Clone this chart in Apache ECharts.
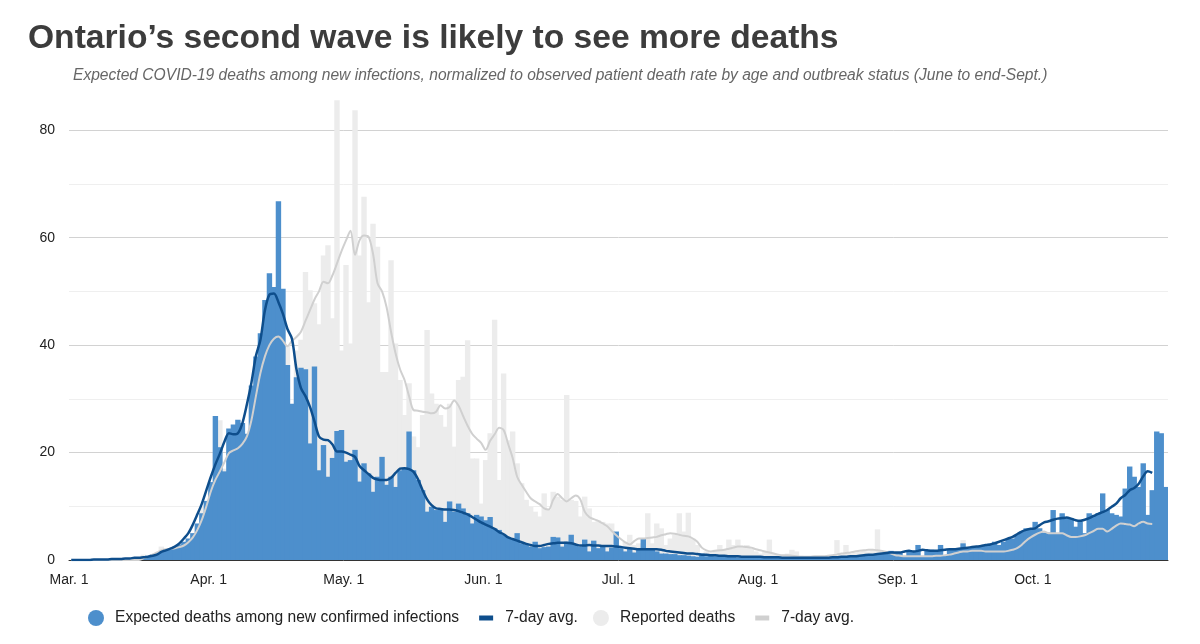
<!DOCTYPE html>
<html><head><meta charset="utf-8">
<script src="https://cdn.jsdelivr.net/npm/echarts@6/dist/echarts.min.js"></script>
<style>html,body{margin:0;padding:0;background:#fff}#chart{width:1200px;height:644px}</style>
</head><body><div id="chart"></div>
<script>
// Daily values, Mar. 1 – Oct. 30, 2020 (one entry per day)
const tickLabels = ['Mar. 1','Apr. 1','May. 1','Jun. 1','Jul. 1','Aug. 1','Sep. 1','Oct. 1'];

const expected = [
  // Mar
  0,0,0,0,0.05,0.1,0.1,0.1,0.15,0.2, 0.2,0.25,0.3,0.35,0.4,0.5,0.6,0.8,1.0,1.2, 1.5,1.8,2.1,2.5,2.9,3.4,4.0,5.0,6.8,8.7,11.0,
  // Apr
  14.5,26.8,21,16.5,24.5,25.2,26.1,25.5,23.5,32.5, 37.9,42.2,48.4,53.4,50.8,66.8,50.5,36.3,29.1,34, 35.8,35.5,21.7,36,16.7,21.4,15.5,19,24,24.2,
  // May
  18.3,18.6,20.5,14.6,18,16.1,12.7,15.5,19.2,14, 15.5,13.6,16.7,17,23.9,16.7,14.9,13,9,9.9, 9.3,9.6,7.1,10.9,9,10.5,9.6,8.7,6.8,8.4,8.1,
  // Jun
  7.4,8,5.9,5.6,4.7,4.3,4,5,3.1,2.8, 2.5,3.4,2.2,2.4,2.5,4.3,4.2,2.5,3.4,4.7, 2.8,2.5,3.8,1.6,3.6,2.2,2.6,1.6,2.3,5.3,
  // Jul
  2.2,1.6,2.2,1.4,2.2,4,2,2,1.6,1.2, 1.2,1.1,1.1,0.9,0.9,0.8,0.7,0.6,1.2,0.7, 0.8,0.7,0.7,0.6,0.6,0.7,0.5,0.6,0.5,0.5,0.6,
  // Aug
  0.4,0.5,0.4,0.5,0.4,0.3,0.4,0.4, 0.3,0.4,0.3,0.4,0.4,0.5,0.4,0.5,0.5,0.6, 0.6,0.7,0.7,0.8,0.8,0.9,1.0,1.0,1.1,1.2, 1.2,1.7,1.3,
  // Sep
  1.4,0.7,1.6,1.7,2.8,0.7,1.8,1.9,1.8,2.8, 0.8,2.0,2.0,2.1,3.1,2.2,2.4,2.5,2.6,2.8, 3.0,3.4,2.8,3.4,4.0,4.0,4.7,5.3,5.9,5.9,
  // Oct
  7.1,5.9,5.1,5.1,9.3,5.0,8.7,7.8,7.8,6.2, 7.1,5.0,8.7,8.4,8.7,12.4,9.3,8.7,8.4,8.1, 13.3,17.4,15.5,13.6,18,8.4,13,23.9,23.6,13.6
];

const reported = [
  // Mar
  0,0,0,0,0,0,0,0,0,0, 0,0,0,0,0,0,1,0,1,1, 2.5,1.5,2,2.5,3,2.5,4,5,6,10,11,
  // Apr
  13,20,26,17,22,21,19,24,22,30, 35,40,45,46,44,48,44,40,29,39, 41,53.6,50.2,47.8,43.9,56.7,58.6,45,85.6,39,
  // May
  54.9,40.3,83.7,56.7,67.6,48,62.6,58.3,35,35, 55.8,40.3,33.5,27,32.9,23,21,27,42.8,31, 29.1,27,24.8,29.1,21.1,33.5,34.1,40.9,18.9,18.9,10.5,
  // Jun
  18.6,23.6,44.7,14.9,34.7,22.3,23.9,18,14.3,11.2, 9.9,9,8.1,12.4,9.3,12.7,11.8,11.2,30.7,11.2, 11,8.1,11.8,9.6,7.1,7.4,7.1,6.8,6.8,5,
  // Jul
  1.6,3.4,4.7,2.8,3.1,2.5,8.7,3.1,6.8,5.9, 2.8,4,4.7,8.7,5.3,8.8,4,2.8,1.2,1.6, 1.4,1.9,2.8,1.9,3.8,2.8,3.8,2.5,2.8,2.2,1.6,
  // Aug
  1.2,1.6,3.8,1.2,0.9,0.9,1.2,1.9, 1.6,0.8,0.6,0.5,0.7,0.6,0.8,0.5,0.9,3.7, 1.0,2.8,1.2,1.4,1.5,1.7,1.6,1.8,5.7,1.5, 1.2,1.0,0.8,
  // Sep
  0.6,0.7,0.6,0.8,0.7,0.6,0.8,0.7,0.9,1.0, 0.8,1.1,1.2,1.5,3.7,1.4,1.6,1.8,1.5,1.7, 1.5,2,1.2,2.2,1.8,2.5,3,3.5,4.5,5,
  // Oct
  5.5,6,5,4.5,6,4.5,5.5,4,4.5,4, 5,4,5.5,6,6.5,5.5,5,6,7,7.5, 6.5,7,6,7.5,7,6.5,7,6,5,5
];

const expectedAvg = [
  // Mar
  0,0,0,0,0,0.1,0.1,0.1,0.1,0.2, 0.2,0.2,0.3,0.3,0.4,0.4,0.5,0.6,0.8,1.0, 1.5,1.8,2.1,2.5,3.1,4.0,5.0,6.6,8.5,10.5,13.0,
  // Apr
  15.5,17.8,19.8,22.0,23.6,23.4,23.6,25.5,29.0,33.0, 38.0,41.0,46.5,49.4,49.6,48.0,45.8,43.0,41.2,35.5, 32.0,30.5,28.5,25.8,23.0,22.4,22.3,21.5,20.2,20.2,
  // May
  20.0,19.6,19.2,17.5,16.7,16.0,15.3,15.0,14.9,14.9, 15.3,16.2,17.0,17.1,16.9,16.4,15.0,13.0,11.3,10.2, 9.6,9.5,9.4,9.4,9.3,9.1,8.8,8.5,8.0,7.5,7.0,
  // Jun
  6.6,6.2,5.8,5.2,4.8,4.2,3.9,3.6,3.3,3.0, 2.8,2.6,2.6,2.8,3.0,3.1,3.2,3.2,3.2,3.1, 2.9,2.7,2.7,2.8,2.7,2.7,2.6,2.6,2.6,2.5,
  // Jul
  2.4,2.3,2.2,2.1,2.0,2.0,2.0,2.0,2.0,1.9, 1.7,1.6,1.5,1.4,1.3,1.2,1.2,1.1,1.0,1.0, 0.9,0.9,0.8,0.8,0.7,0.7,0.7,0.6,0.6,0.6,0.6,
  // Aug
  0.6,0.5,0.5,0.5,0.5,0.4,0.4,0.4, 0.4,0.4,0.4,0.4,0.4,0.4,0.4,0.4,0.5,0.5, 0.6,0.6,0.7,0.7,0.8,0.9,1.0,1.0,1.1,1.2, 1.3,1.4,1.4,
  // Sep
  1.4,1.6,1.7,1.6,1.7,1.9,1.8,1.7,1.7,1.8, 1.9,2.0,2.0,2.1,2.2,2.3,2.4,2.5,2.6,2.8, 2.9,3.1,3.4,3.7,4.0,4.3,4.8,5.3,5.6,5.8,
  // Oct (to Oct. 27)
  5.9,6.5,7.0,7.2,7.5,7.7,7.8,7.9,7.7,7.4, 7.3,7.5,7.8,8.2,8.6,8.9,9.3,9.9,10.5,11.5, 12.1,13.0,13.4,14.2,15.6,16.5,16.2
];

const reportedAvg = [
  // Mar
  0,0,0,0,0,0,0,0,0,0, 0,0,0,0,0,0,0.3,0.6,1.0,1.4, 1.8,2.0,2.1,2.2,2.4,2.7,3.3,4.2,5.6,7.5,10.0,
  // Apr
  12.8,14.9,16.5,18.2,19.9,20.4,20.8,21.6,23.0,26.0, 30.5,34.8,37.9,40.0,41.2,41.6,40.8,39.8,40.8,41.5, 42.5,44.5,46.5,48.5,50.0,51.8,51.5,53.0,55.2,57.5,
  // May
  59.5,61.3,56.8,59.5,60.4,60.2,57.0,51.5,50.0,47.1, 42.5,38.5,35.5,33.5,30.5,27.9,27.8,27.6,27.5,27.3, 27.6,28.8,28.2,28.5,29.7,28.7,26.8,25.0,23.5,22.6,21.8,
  // Jun
  20.5,22.2,23.4,24.6,24.2,21.6,19.0,15.5,14.0,12.7, 11.5,10.9,10.4,9.6,9.4,11.2,12.3,11.5,10.9,11.5, 12.0,11.3,9.0,8.0,7.6,7.3,6.8,6.3,5.4,4.6,
  // Jul
  3.9,3.3,2.9,3.5,4.0,4.0,4.1,4.2,4.3,4.6, 4.8,5.0,4.9,4.7,4.5,4.4,4.0,3.4,2.3,1.8, 1.6,1.7,1.8,1.9,2.1,2.3,2.5,2.5,2.4,2.3,2.0,
  // Aug
  1.8,1.6,1.4,1.2,1.0,0.9,0.9,0.8, 0.7,0.6,0.6,0.6,0.7,0.7,0.7,0.8,0.9,1.0, 1.2,1.3,1.4,1.6,1.7,1.8,1.9,1.9,1.8,1.7, 1.5,1.2,0.9,
  // Sep
  0.8,0.7,0.7,0.7,0.7,0.7,0.7,0.7,0.8,0.8, 0.9,1.0,1.2,1.4,1.6,1.6,1.7,1.7,1.7,1.6, 1.6,1.6,1.6,1.6,1.7,1.9,2.2,2.8,3.6,4.2,
  // Oct (to Oct. 27)
  4.7,5.1,5.3,5.0,5.0,5.0,5.0,4.6,4.3,4.3, 4.4,4.6,5.0,5.4,5.8,5.8,5.3,5.8,6.4,6.8, 6.7,6.6,6.3,6.8,7.1,6.8,6.7
];

// Date categories (one per day from Mar. 1, 2020)
const categories = [];
const startMs = Date.UTC(2020, 2, 1);
for (let i = 0; i < expected.length; i++) {
  categories.push(new Date(startMs + i * 86400000).toISOString().slice(0, 10));
}
const isMonthStart = (i, v) => String(v).slice(8) === '01';
const monthLabel = v => String(v).slice(8) === '01' ? tickLabels[parseInt(v.slice(5, 7), 10) - 3] : '';

const FONT = '"Liberation Sans", Arial, Helvetica, sans-serif';
const rectIcon = 'path://M0,0M24,16M5,5.5h14v5h-14z';

const chart = echarts.init(document.getElementById('chart'), null, {renderer: 'canvas'});
chart.setOption({
  animation: false,
  backgroundColor: '#fff',
  textStyle: {fontFamily: FONT},
  title: [
    {text: 'Ontario\u2019s second wave is likely to see more deaths', left: 23, top: 17,
     textStyle: {fontFamily: FONT, fontSize: 33.6, fontWeight: 'bold', color: '#3c3c3c'}},
    {text: 'Expected COVID-19 deaths among new infections, normalized to observed patient death rate by age and outbreak status (June to end-Sept.)',
     left: 68, top: 63, textStyle: {fontFamily: FONT, fontSize: 15.6, fontStyle: 'italic', fontWeight: 'normal', color: '#666'}}
  ],
  grid: {left: 69, right: 32, top: 98, bottom: 84, containLabel: false},
  legend: {
    left: 83, top: 605, itemWidth: 24, itemHeight: 16, itemGap: 15,
    itemStyle: {borderWidth: 0},
    textStyle: {fontFamily: FONT, fontSize: 15.6, color: '#222', padding: [0, 0, 0, 2]},
    formatter: n => n.indexOf('avg') === 0 ? '7-day avg.' : n,
    data: [
      {name: 'Expected deaths among new confirmed infections', icon: 'circle'},
      {name: 'avgExpected', icon: rectIcon},
      {name: 'Reported deaths', icon: 'circle'},
      {name: 'avgReported', icon: rectIcon}
    ]
  },
  xAxis: {
    type: 'category', data: categories, boundaryGap: true,
    axisLine: {lineStyle: {color: '#333', width: 1}},
    axisTick: {interval: isMonthStart, length: 7, lineStyle: {color: '#333'}},
    axisLabel: {interval: isMonthStart, formatter: monthLabel, fontFamily: FONT, fontSize: 14, color: '#222', margin: 13, padding: [0, 4.5, 0, 0]},
    splitLine: {show: false}
  },
  yAxis: {
    type: 'value', min: 0, max: 86, interval: 10,
    axisLine: {show: false}, axisTick: {show: false},
    axisLabel: {formatter: v => (v % 20 === 0 ? String(v) : ''), showMaxLabel: false, fontFamily: FONT, fontSize: 14, color: '#222', margin: 14},
    splitLine: {show: true, showMaxLine: false,
      lineStyle: {color: ['#d2d2d2','#efefef','#d2d2d2','#efefef','#d2d2d2','#efefef','#d2d2d2','#efefef','#d2d2d2','rgba(0,0,0,0)'], width: 1}}
  },
  series: [
    {name: 'Reported deaths', type: 'bar', data: reported, barGap: '-100%', barWidth: 5.4,
     itemStyle: {color: '#ececec'}, z: 1},
    {name: 'Expected deaths among new confirmed infections', type: 'bar', data: expected, barGap: '-100%', barWidth: 5.4,
     itemStyle: {color: '#4d8fcc'}, z: 2},
    {name: 'avgReported', type: 'line', data: reportedAvg, showSymbol: false, symbol: 'none', smooth: 0.3,
     itemStyle: {color: '#d0d0d0'}, lineStyle: {color: '#d0d0d0', width: 2}, z: 3},
    {name: 'avgExpected', type: 'line', data: expectedAvg, showSymbol: false, symbol: 'none', smooth: 0.3,
     itemStyle: {color: '#0e4e8c'}, lineStyle: {color: '#0e4e8c', width: 2.5}, z: 4}
  ]
});
</script>
</body></html>
